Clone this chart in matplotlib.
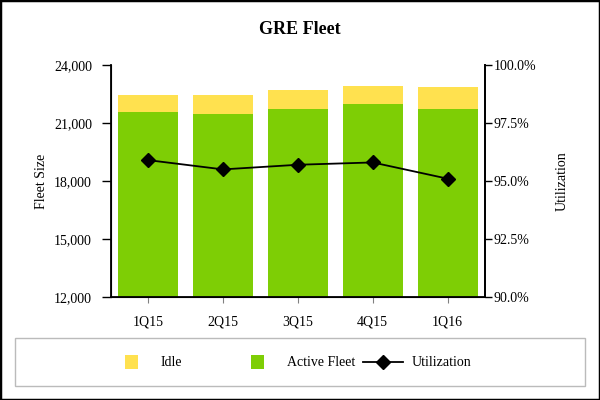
import matplotlib
matplotlib.use("Agg")
import matplotlib.pyplot as plt
from matplotlib.patches import Rectangle
from matplotlib.lines import Line2D
from matplotlib.ticker import FuncFormatter

categories = ["1Q15", "2Q15", "3Q15", "4Q15", "1Q16"]
active_fleet = [21550, 21470, 21740, 21970, 21720]
idle = [910, 980, 970, 940, 1130]
utilization = [95.9, 95.5, 95.7, 95.8, 95.1]

YELLOW = "#FFE14F"
GREEN = "#7ECE05"

plt.rcParams["font.family"] = ["Liberation Serif", "DejaVu Serif"]
plt.rcParams["font.size"] = 10

W, H = 600, 400
fig = plt.figure(figsize=(6, 4), dpi=100)
ax = fig.add_axes([110.7 / W, 1 - 297 / H, (485 - 110.7) / W, (297 - 65) / H])

x = list(range(len(categories)))
ax.bar(x, active_fleet, width=0.8, color=GREEN, zorder=2)
ax.bar(x, idle, bottom=active_fleet, width=0.8, color=YELLOW, zorder=2)
ax.set_xlim(-0.5, len(categories) - 0.5)
ax.set_ylim(12000, 24000)
ax.set_yticks([12000, 15000, 18000, 21000, 24000])
ax.yaxis.set_major_formatter(FuncFormatter(lambda v, p: f"{int(v):,}"))
ax.set_xticks(x)
ax.set_xticklabels(categories)
ax.tick_params(axis="x", length=4, pad=9, color="#808080")
ax.tick_params(axis="y", length=6.5, width=1, pad=7)
ax.set_ylabel("Fleet Size", labelpad=4)
ax.spines["top"].set_visible(False)
for s in ["left", "bottom", "right"]:
    ax.spines[s].set_linewidth(1.3)

ax2 = ax.twinx()
ax2.plot(x, utilization, color="black", lw=1.3, marker="D", markersize=7, zorder=5)
ax2.set_ylim(90, 100)
ax2.set_yticks([90, 92.5, 95, 97.5, 100])
ax2.yaxis.set_major_formatter(FuncFormatter(lambda v, p: f"{v:.1f}%"))
ax2.tick_params(axis="y", length=5, width=1, pad=1)
ax2.set_ylabel("Utilization", labelpad=14)
ax2.spines["top"].set_visible(False)
ax2.spines["right"].set_linewidth(1.3)

fig.text(0.5, 1 - 30 / H, "GRE Fleet", ha="center", va="center", fontsize=13, fontweight="bold")

# legend box
fig.add_artist(Rectangle((15 / W, 1 - 386 / H), 570 / W, 48 / H, transform=fig.transFigure,
                         facecolor="white", edgecolor="#BBBBBB", lw=1))
ly = 1 - 362 / H
fig.add_artist(Rectangle((125 / W, ly - 7 / H), 13 / W, 14 / H, transform=fig.transFigure,
                         facecolor=YELLOW, edgecolor="none"))
fig.text(161 / W, ly, "Idle", ha="left", va="center")
fig.add_artist(Rectangle((251 / W, ly - 7 / H), 13 / W, 14 / H, transform=fig.transFigure,
                         facecolor=GREEN, edgecolor="none"))
fig.text(287 / W, ly, "Active Fleet", ha="left", va="center")
fig.add_artist(Line2D([363 / W, 403 / W], [ly, ly], transform=fig.transFigure, color="black", lw=1.3))
fig.add_artist(Line2D([383 / W], [ly], transform=fig.transFigure, color="black", marker="D", markersize=7))
fig.text(412 / W, ly, "Utilization", ha="left", va="center")

# outer frame
fig.add_artist(Rectangle((0, 0), 1, 1, transform=fig.transFigure, facecolor="none",
                         edgecolor="black", lw=2.5))

fig.savefig("out.png", dpi=100)
